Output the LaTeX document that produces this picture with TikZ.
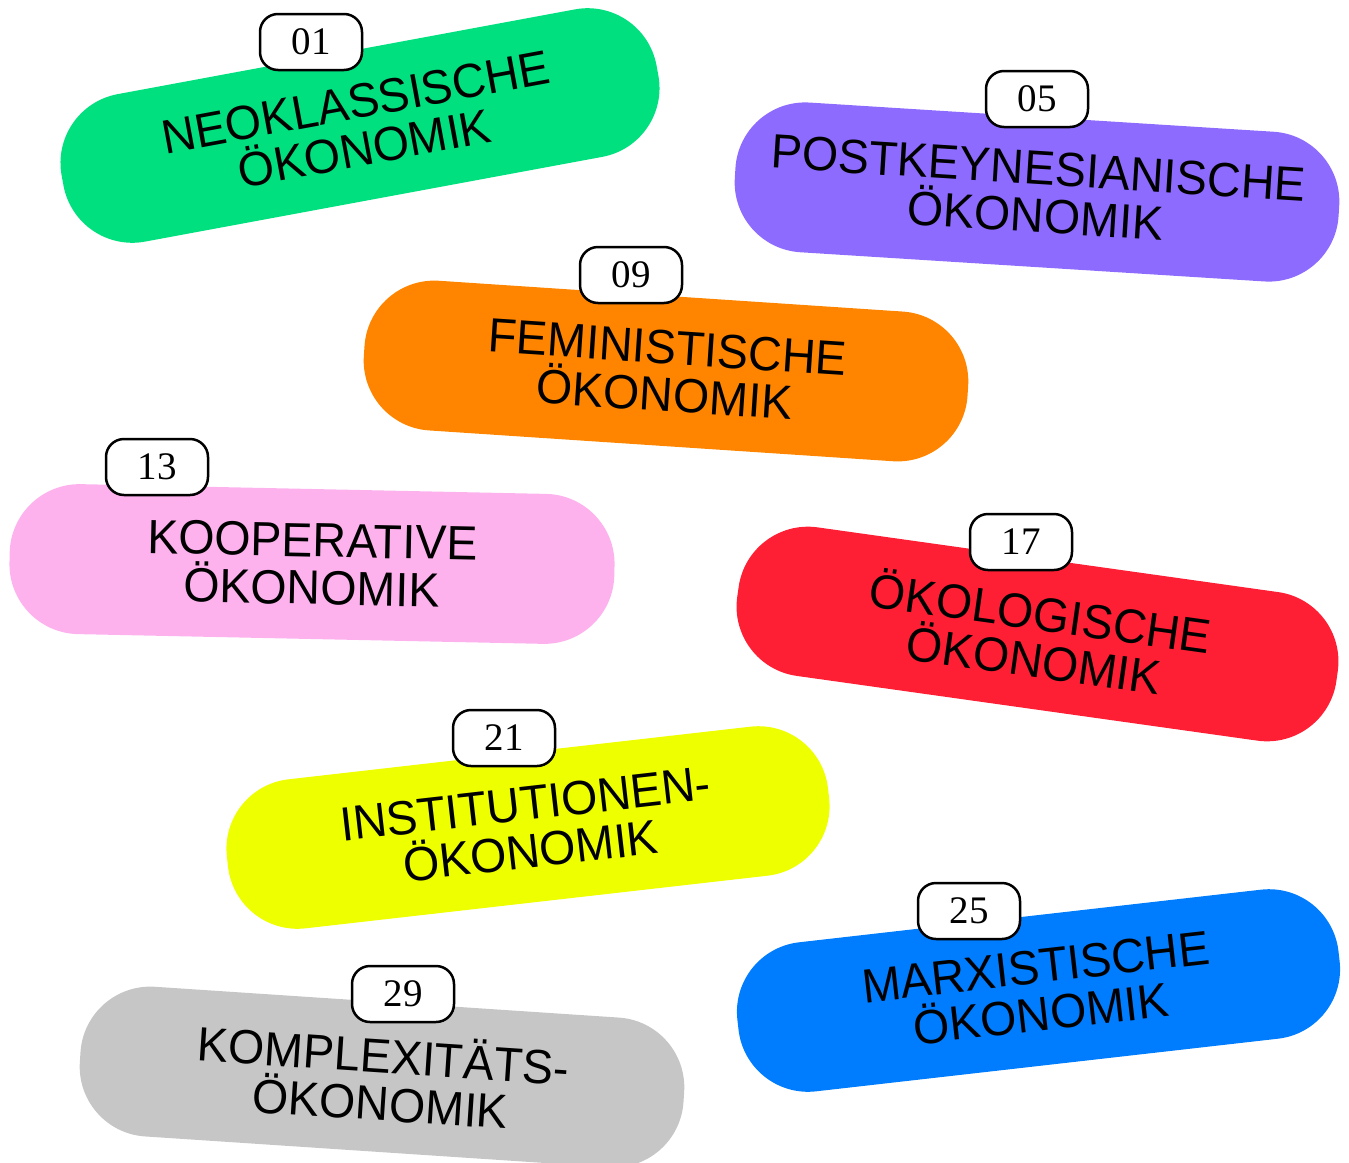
\documentclass[tikz,border=0pt]{standalone}
\usepackage{fontspec}
\newfontfamily\pillfont[FakeStretch=0.97]{Liberation Sans}
\newfontfamily\nrfont{Liberation Serif}
\definecolor{neogreen}{HTML}{00E07E}
\definecolor{postpurple}{HTML}{8E6BFF}
\definecolor{feminorange}{HTML}{FF8500}
\definecolor{koopink}{HTML}{FDB2EE}
\definecolor{oekored}{HTML}{FF1F35}
\definecolor{instyellow}{HTML}{EEFF00}
\definecolor{marxblue}{HTML}{007DFF}
\definecolor{komplgray}{HTML}{C6C6C6}
\begin{document}
\begin{tikzpicture}[x=1pt,y=-1pt,
	pill/.style={rounded corners=70pt,minimum width=605pt,minimum height=150pt,inner sep=0pt,align=center,font=\pillfont\fontsize{48}{47.5}\selectfont},
	nr/.style={draw=black,line width=2.5pt,fill=white,rounded corners=18pt,minimum width=102pt,minimum height=56pt,inner sep=0pt,font=\nrfont\fontsize{39}{39}\selectfont}]
	\useasboundingbox (0,0) rectangle (1349,1162);
	\node [pill,fill=neogreen,rotate=10.5] (neo) at (360,125.5) {NEOKLASSISCHE\\ÖKONOMIK};
	\node [pill,fill=postpurple,rotate=-3.6] (post) at (1037,192) {POSTKEYNESIANISCHE\\ÖKONOMIK};
	\node [pill,fill=feminorange,rotate=-3.8] (femin) at (666,371) {FEMINISTISCHE\\ÖKONOMIK};
	\node [pill,fill=koopink,rotate=-1.2] (koop) at (312,564) {KOOPERATIVE\\ÖKONOMIK};
	\node [pill,fill=oekored,rotate=-8] (oeko) at (1037.5,634) {ÖKOLOGISCHE\\ÖKONOMIK};
	\node [pill,fill=instyellow,rotate=6.5] (inst) at (528,827.5) {INSTITUTIONEN-\\ÖKONOMIK};
	\node [pill,fill=marxblue,rotate=6.5] (marx) at (1038.5,990.5) {MARXISTISCHE\\ÖKONOMIK};
	\node [pill,fill=komplgray,rotate=-3.8] (kompl) at (382,1077) {KOMPLEXITÄTS-\\ÖKONOMIK};
	\node [nr] (neo-nr) at (311,42) {01};
	\node [nr] (post-nr) at (1037,99) {05};
	\node [nr] (femin-nr) at (631,275) {09};
	\node [nr] (koop-nr) at (157,467) {13};
	\node [nr] (oeko-nr) at (1021,542) {17};
	\node [nr] (inst-nr) at (504,738) {21};
	\node [nr] (marx-nr) at (969,911) {25};
	\node [nr] (kompl-nr) at (403,994) {29};
\end{tikzpicture}
\end{document}
